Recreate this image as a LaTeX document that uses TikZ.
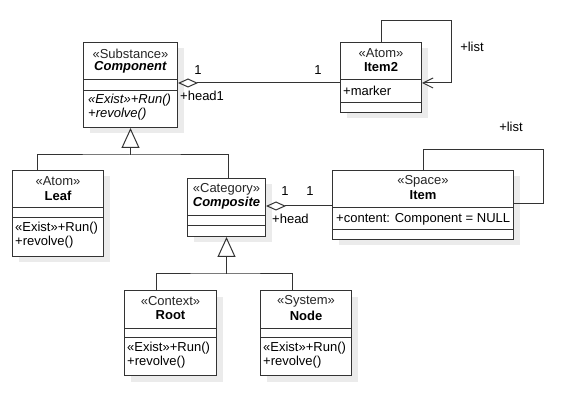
\documentclass[tikz,border=0pt]{standalone}
\usepackage{fontspec}
\setmainfont{Liberation Sans}
\usetikzlibrary{shapes,arrows.meta,shadows}

\begin{document}
\begin{tikzpicture} [x=1pt, y=-1pt,
                     font=\fontsize{13}{14}\selectfont,
                     umlbox/.style= {shape=rectangle, draw=black!80, line width=1pt,
                                     fill=white, inner sep=0, anchor=north west,
                                     drop shadow={shadow xshift=6pt, shadow yshift=-6pt,
                                                  fill=black!8, opacity=1}},
                     stereo/.style= {inner sep=0, text=black!85},
                     title/.style=  {inner sep=0, font=\fontsize{13}{14}\selectfont\bfseries},
                     ops/.style=    {inner sep=0, anchor=west, align=left},
                     line/.style=   {draw=black!80, line width=1pt},
                     aggr/.style=   {line, -{Diamond[open, length=20pt, width=9pt]}},
                     gen/.style=    {line, -{Triangle[open, length=20pt, width=18pt]}},
                     self/.style=   {line, -{Straight Barb[length=10pt, width=10pt]}}]

\useasboundingbox (0,0) rectangle (562,403);

\foreach \n/\x/\y/\w/\h in {comp/83/42/94/85, item2/340/42/81/70, leaf/12/170/91/86,
                            compo/187/178/78/58, item/332/170/181/69,
                            root/124/290/92/85, sysnode/260/290/91/85}{%
    \node[umlbox, minimum width=\w pt, minimum height=\h pt] (\n) at (\x,\y) {};}

\foreach \n/\a/\b in {comp/38/49, item2/38/61, leaf/38/48, compo/38/48,
                      item/38/60, root/38/47, sysnode/38/47}{%
    \draw[line] ([yshift=-\a pt]\n.north west) -- ([yshift=-\a pt]\n.north east)
                ([yshift=-\b pt]\n.north west) -- ([yshift=-\b pt]\n.north east);}

\foreach \n/\s/\t in {comp/Substance/\textit{Component}, item2/Atom/Item2, leaf/Atom/Leaf,
                      compo/Category/\textit{Composite}, item/Space/Item,
                      root/Context/Root, sysnode/System/Node}{%
    \node[stereo] (\n-s) at ([yshift=-11.5pt]\n.north) {«\s»};
    \node[title]  (\n-t) at ([yshift=-25.5pt]\n.north) {\t};}

% operations and attributes
\node[ops] (comp-m) at ([xshift=5pt,yshift=-65pt]comp.north west)
     {\textit{«Exist»+Run()}\\\textit{+revolve()}};
\foreach \n in {leaf,root,sysnode}
    {\node[ops] (\n-m) at ([xshift=3pt,yshift=-65pt]\n.north west) {«Exist»+Run()\\+revolve()};}
\node[ops] (item2-a) at ([xshift=3pt,yshift=-49pt]item2.north west) {+marker};
\node[ops] (item-a)  at ([xshift=4pt,yshift=-49pt]item.north west) {+content: Component = NULL};

% associations
\draw[aggr] ([yshift=-41pt]item2.north west) -- ([yshift=-41pt]comp.north east);
\coordinate (hd) at ([yshift=-36pt]item.north west);
\draw[aggr] (hd) -- (hd -| compo.east);

\draw[self] (item2.north) -- ++(0,-21) -| ([xshift=29pt,yshift=-41pt]item2.north east)
            -- ([yshift=-41pt]item2.north east);
\draw[line] (item.north) -- ++(0,-20) -| ([xshift=29pt,yshift=-34pt]item.north east)
            -- ([yshift=-34pt]item.north east);

\node (m1) at (198,70) {1};
\node (m2) at (318,70) {1};
\node[anchor=west, inner sep=0] (r1) at (180,96) {+head1};
\node (m3) at (285,191) {1};
\node (m4) at (310,191) {1};
\node[anchor=west, inner sep=0] (r2) at (272,219) {+head};
\node (r3) at (472,47) {+list};
\node (r4) at (511,127) {+list};

% generalisations
\coordinate (j1) at ([yshift=-27pt]comp.south);
\draw[gen] (j1) -- (comp.south);
\draw[line] ([xshift=-21pt]leaf.north) |- (j1) -| ([xshift=2pt]compo.north);

\coordinate (j2) at ([yshift=-37pt]compo.south);
\draw[gen] (j2) -- (compo.south);
\draw[line] ([xshift=-14pt]root.north) |- (j2) -| ([xshift=-14pt]sysnode.north);
\end{tikzpicture}
\end{document}
